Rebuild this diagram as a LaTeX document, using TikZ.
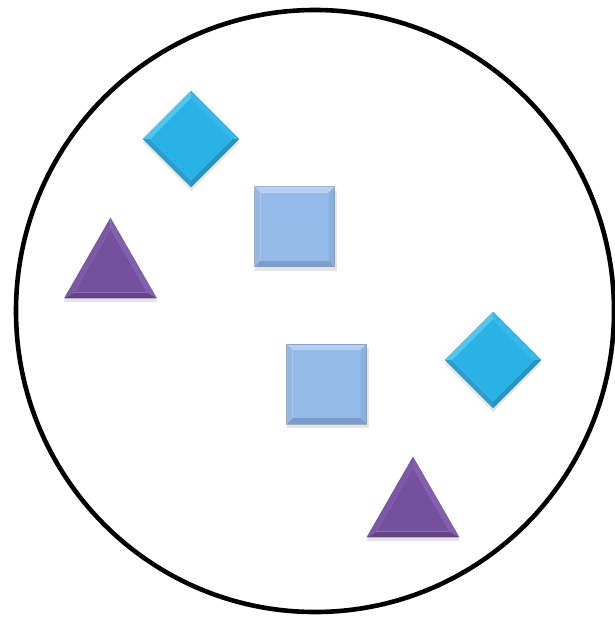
\documentclass[tikz,border=0pt]{standalone}
\usetikzlibrary{calc}
\definecolor{dmain}{HTML}{2AB2E6}
\definecolor{dlight}{HTML}{55C6EE}
\definecolor{dmid}{HTML}{36B9EA}
\definecolor{ddark}{HTML}{2296C4}
\definecolor{smain}{HTML}{95B9E9}
\definecolor{slight}{HTML}{B4D0F3}
\definecolor{sside}{HTML}{8CB0DE}
\definecolor{sdark}{HTML}{7C9DCB}
\definecolor{tmain}{HTML}{7550A0}
\definecolor{tlight}{HTML}{8260AE}
\definecolor{tdark}{HTML}{634488}
\tikzset{
  ring/.style={draw=black, line width=4.6pt},
  shade/.style={fill=black, opacity=0.10},
  pics/gem/.style={code={
    \fill[shade] (0,-44) -- (48,4) -- (0,52) -- (-48,4) -- cycle;
    \fill[dlight] (-48,0) -- (0,-48) -- (0,-41) -- (-41,0) -- cycle;
    \fill[dmid] (0,-48) -- (48,0) -- (41,0) -- (0,-41) -- cycle;
    \fill[ddark] (48,0) -- (0,48) -- (0,41) -- (41,0) -- cycle;
    \fill[dmain!90!black] (0,48) -- (-48,0) -- (-41,0) -- (0,41) -- cycle;
    \fill[dmain] (0,-41) -- (41,0) -- (0,41) -- (-41,0) -- cycle;
    \draw[ddark!80!black, line width=0.6pt, opacity=0.45] (0,-48) -- (48,0) -- (0,48) -- (-48,0) -- cycle;
  }},
  pics/tile/.style={code={
    \fill[shade] (-40,-36) rectangle (42,44);
    \fill[slight] (-40,-40) -- (40,-40) -- (34,-34) -- (-34,-34) -- cycle;
    \fill[sside] (40,-40) -- (40,40) -- (34,34) -- (34,-34) -- cycle;
    \fill[sdark] (40,40) -- (-40,40) -- (-34,34) -- (34,34) -- cycle;
    \fill[sside!90!white] (-40,40) -- (-40,-40) -- (-34,-34) -- (-34,34) -- cycle;
    \fill[smain] (-34,-34) rectangle (34,34);
    \draw[sdark!80!black, line width=0.6pt, opacity=0.5] (-40,-40) rectangle (40,40);
  }},
  pics/pyramid/.style={code={
    \fill[shade] (0,-36) -- (47,44) -- (-47,44) -- cycle;
    \coordinate (-a) at (0,-40);
    \coordinate (-b) at (46,40);
    \coordinate (-c) at (-46,40);
    \coordinate (-i) at (0,13.4);
    \coordinate (-ia) at ($(-i)!0.8!(-a)$);
    \coordinate (-ib) at ($(-i)!0.8!(-b)$);
    \coordinate (-ic) at ($(-i)!0.8!(-c)$);
    \fill[tlight] (-a) -- (-b) -- (-ib) -- (-ia) -- cycle;
    \fill[tdark] (-b) -- (-c) -- (-ic) -- (-ib) -- cycle;
    \fill[tmain!95!white] (-c) -- (-a) -- (-ia) -- (-ic) -- cycle;
    \fill[tmain] (-ia) -- (-ib) -- (-ic) -- cycle;
    \draw[tdark!80!black, line width=0.6pt, opacity=0.5] (-a) -- (-b) -- (-c) -- cycle;
  }}
}
\begin{document}
\begin{tikzpicture}[x=1pt, y=-1pt]
  \useasboundingbox (0,0) rectangle (615,618);
  \fill[white] (0,0) rectangle (615,618);
  \draw[ring] (315,311) circle[x radius=299pt, y radius=301pt];
  \pic (d1) at (191,139) {gem};
  \pic (d2) at (493,360) {gem};
  \pic (s1) at (294.5,226.5) {tile};
  \pic (s2) at (326.5,384) {tile};
  \pic (t1) at (110.5,258) {pyramid};
  \pic (t2) at (413,497) {pyramid};
\end{tikzpicture}
\end{document}
